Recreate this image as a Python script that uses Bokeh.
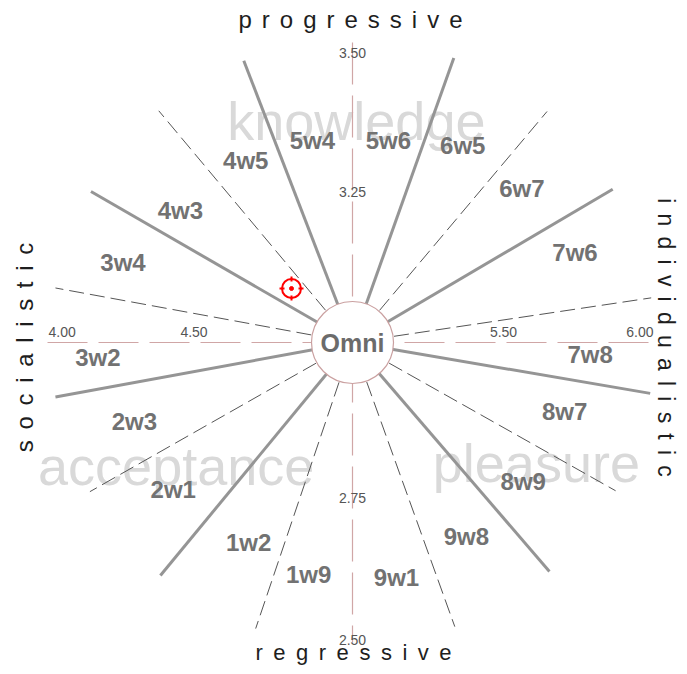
import math
from bokeh.plotting import figure
from bokeh.models import Range1d
from bokeh.core.properties import value
from bokeh.embed import file_html
from bokeh.resources import INLINE

# ---------------- data ----------------
center_value = [5.00, 3.00]
x_axis_span = [4.00, 6.00]
y_axis_span = [3.50, 2.50]
x_tick_values = [4.00, 4.50, 5.50, 6.00]
x_tick_labels = ["4.00", "4.50", "5.50", "6.00"]
y_tick_values = [3.50, 3.25, 2.75, 2.50]
y_tick_labels = ["3.50", "3.25", "2.75", "2.50"]

type_boundary_deg = [111.1, 70.4, 30.5, -9.7, -49.3, 230.5, 190.4, 150.0]
wing_boundary_deg = [129.9, 49.9, 8.5, -29.4, -70.2, 251.3, 209.6, 169.6]

wing_labels = ["5w4", "5w6", "6w5", "6w7", "7w6", "7w8", "8w7", "8w9", "9w8",
               "9w1", "1w9", "1w2", "2w1", "2w3", "3w2", "3w4", "4w3", "4w5"]
center_label = "Omni"
theme_words = ["knowledge", "acceptance", "pleasure"]
side_words = ["progressive", "regressive", "socialistic", "individualistic"]

point_x = [4.80]
point_y = [3.09]

# ---------------- layout (pixels) ----------------
W, H = 679, 666
PCX, PCY = 352, 342          # pixel position of the centre
XS = 305.0                   # px per x unit
YS = 600.0                   # px per y unit
RAY_R = 302.0
CIRCLE_D = 82
wing_label_deg = [101.2, 79.9, 60.8, 42.3, 22.0, -2.9, -18.0, -39.1, -59.6,
                  -79.4, 259.3, 242.5, 219.4, 199.9, 183.4, 160.8, 142.5, 120.4]
wing_label_r = [206, 205, 226, 229, 240, 238, 223, 220, 225,
                239, 236, 225, 232, 232, 255, 243, 217, 211]
theme_deg = [89.0, 214.9, -33.3]
theme_r = [222, 215, 220]

CX, CY = center_value


def polar(deg, r):
    a = math.radians(deg)
    return CX + r * math.cos(a) / XS, CY + r * math.sin(a) / YS


def shift(x, y, dx, dy_down):
    return x + dx / XS, y - dy_down / YS


p = figure(width=W, height=H, output_backend="svg", toolbar_location=None,
           x_range=Range1d(CX - PCX / XS, CX + (W - PCX) / XS),
           y_range=Range1d(CY - (H - PCY) / YS, CY + PCY / YS),
           x_axis_location=None, y_axis_location=None, min_border=0)
p.grid.visible = False
p.outline_line_color = None
p.background_fill_color = "white"
p.border_fill_color = "white"

FONT = value("Liberation Sans")

# theme words (background)
tw = [polar(d, r) for d, r in zip(theme_deg, theme_r)]
p.text(x=[t[0] for t in tw], y=[t[1] for t in tw], text=theme_words,
       text_font=FONT, text_font_size="54px", text_color="#d9d9d9",
       text_align="center", text_baseline="alphabetic")

# axes lines
p.line(x=x_axis_span, y=[CY, CY], line_color="#d0a6a6", line_width=1.2,
       line_dash="40 11")
p.line(x=[CX, CX], y=y_axis_span, line_color="#d0a6a6", line_width=1.2,
       line_dash="42 11")

# tick labels
xt_off = [(1, "left"), (-6, "center"), (-1.5, "center"), (-4, "right")]
xs, ys, al = [], [], []
for v, (dx, a) in zip(x_tick_values, xt_off):
    xx, yy = shift(v, CY, dx, -11)
    xs.append(xx); ys.append(yy); al.append(a)
p.text(x=xs, y=ys, text=x_tick_labels, text_align=al, text_baseline="middle",
       text_font=FONT, text_font_size="14px", text_color="#555555")
yt_off = [10, -1, 5, -3]
xs, ys = [], []
for v, dy in zip(y_tick_values, yt_off):
    xx, yy = shift(CX, v, 0, dy)
    xs.append(xx); ys.append(yy)
p.text(x=xs, y=ys, text=y_tick_labels, text_align="center", text_baseline="middle",
       text_font=FONT, text_font_size="14px", text_color="#555555")

# rays
ends = [polar(d, RAY_R) for d in wing_boundary_deg]
p.segment(x0=[CX] * len(ends), y0=[CY] * len(ends),
          x1=[e[0] for e in ends], y1=[e[1] for e in ends],
          line_color="#555555", line_width=1, line_dash="15 6")
ends = [polar(d, RAY_R) for d in type_boundary_deg]
p.segment(x0=[CX] * len(ends), y0=[CY] * len(ends),
          x1=[e[0] for e in ends], y1=[e[1] for e in ends],
          line_color="#959595", line_width=3)

# centre circle
p.scatter(x=[CX], y=[CY], size=CIRCLE_D, marker="circle", fill_color="white",
          line_color="#caa0a0", line_width=1.2)
p.text(x=[CX], y=[CY], text=[center_label], text_align="center",
       text_baseline="middle", text_font=FONT, text_font_style="bold",
       text_font_size="25px", text_color="#6b6b6b")

# wing labels
wl = [polar(d, r) for d, r in zip(wing_label_deg, wing_label_r)]
p.text(x=[w[0] for w in wl], y=[w[1] for w in wl], text=wing_labels,
       text_align="center", text_baseline="middle", text_font=FONT,
       text_font_style="bold", text_font_size="24px", text_color="#727272")

# side words (letter spaced)
seps = ["\u2005\u2006", " \u2009", " \u2006", " \u2006"]
spaced = [sep.join(list(w)) for w, sep in zip(side_words, seps)]
side_pos = [(350, 19, 0.0, "24px"), (353, 652, 0.0, "22px"),
            (24, 347, math.pi / 2, "24px"), (665, 337, -math.pi / 2, "23px")]
for s, (px, py, ang, fs) in zip(spaced, side_pos):
    xx, yy = shift(CX, CY, px - PCX, py - PCY)
    p.text(x=[xx], y=[yy], text=[s], angle=ang, text_align="center",
           text_baseline="middle", text_font=FONT, text_font_size=fs,
           text_color="#1e1e1e")

# red target marker
p.scatter(x=point_x, y=point_y, size=19, marker="circle", fill_color=None,
          line_color="red", line_width=2)
p.scatter(x=point_x, y=point_y, size=4, marker="circle", fill_color="red",
          line_color="red")
tx0, ty0, tx1, ty1 = [], [], [], []
for dx, dy in [(1, 0), (-1, 0), (0, 1), (0, -1)]:
    a = shift(point_x[0], point_y[0], dx * 7, dy * 7)
    b = shift(point_x[0], point_y[0], dx * 12, dy * 12)
    tx0.append(a[0]); ty0.append(a[1]); tx1.append(b[0]); ty1.append(b[1])
p.segment(x0=tx0, y0=ty0, x1=tx1, y1=ty1, line_color="red", line_width=2)

open("out.html", "w").write(file_html(p, INLINE))
